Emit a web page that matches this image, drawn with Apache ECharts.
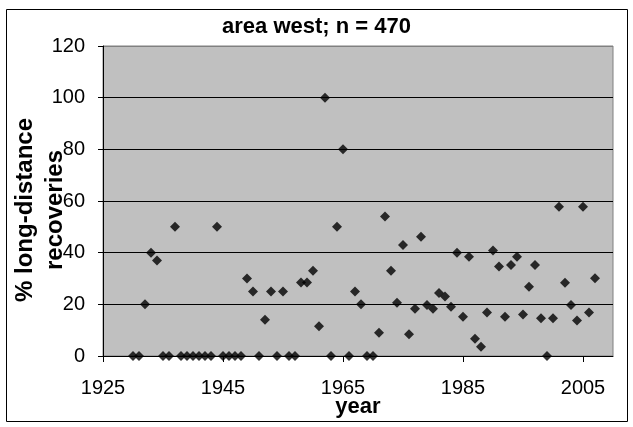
<!DOCTYPE html>
<html>
<head>
<meta charset="utf-8">
<script src="https://cdn.jsdelivr.net/npm/echarts@6/dist/echarts.min.js"></script>
<style>
html,body{margin:0;padding:0;background:#fff;}
#chart{width:633px;height:427px;}
</style>
</head>
<body>
<div id="chart"></div>
<script>
var titleText = 'area west; n = 470';
var xName = 'year';
var yName = '% long-distance\nrecoveries';

var years = [1930,1931,1932,1933,1934,1935,1936,1937,1938,1939,
             1940,1941,1942,1943,1944,1945,1946,1947,1948,1949,
             1950,1951,1952,1953,1954,1955,1956,1957,1958,1959,
             1960,1961,1962,1963,1964,1965,1966,1967,1968,1969,
             1970,1971,1972,1973,1974,1975,1976,1977,1978,1979,
             1980,1981,1982,1983,1984,1985,1986,1987,1988,1989,
             1990,1991,1992,1993,1994,1995,1996,1997,1998,1999,
             2000,2001,2002,2003,2004,2005,2006,2007];
var percents = [0,0,20,40,37,0,0,50,0,0,
                0,0,0,0,50,0,0,0,0,30,
                25,0,14,25,0,25,0,0,28.5,28.5,
                33,11.5,100,0,50,80,0,25,20,0,
                0,9,54,33,20.6,43,8.4,18.3,46.2,19.7,
                18.3,24.4,23,19.1,40,15.2,38.4,6.7,3.6,16.8,
                40.8,34.6,15.2,35.2,38.4,16.1,26.8,35.2,14.6,0,
                14.6,57.8,28.4,19.7,13.7,57.8,16.8,30.1];

var points = years.map(function (y, i) { return [y, percents[i]]; });

var chart = echarts.init(document.getElementById('chart'), null, {renderer: 'canvas'});
var font = 'Liberation Sans, Arial, sans-serif';
chart.setOption({
  animation: false,
  backgroundColor: '#ffffff',
  title: {
    text: titleText,
    left: 'center',
    top: 16,
    padding: 0,
    textStyle: {fontFamily: font, fontSize: 22, fontWeight: 'bold', color: '#000'}
  },
  graphic: [{
    type: 'rect',
    silent: true,
    shape: {x: 6.5, y: 9.5, width: 621, height: 412},
    style: {fill: 'none', stroke: '#000', lineWidth: 1}
  }],
  grid: {
    left: 103, right: 20, top: 46, bottom: 71,
    containLabel: false,
    outerBoundsMode: 'none',
    show: true,
    backgroundColor: '#c0c0c0',
    borderColor: '#808080',
    borderWidth: 1
  },
  xAxis: {
    type: 'value',
    min: 1925, max: 2010, interval: 20,
    name: xName,
    nameLocation: 'middle',
    nameGap: 40,
    nameMoveOverlap: false,
    nameTextStyle: {fontFamily: font, fontSize: 22, fontWeight: 'bold', color: '#000'},
    axisLine: {show: true, onZero: false, lineStyle: {color: '#000', width: 1}},
    axisTick: {show: true, inside: false, length: 6, lineStyle: {color: '#000'}},
    axisLabel: {fontFamily: font, fontSize: 20, color: '#000', margin: 22, showMaxLabel: false,
      formatter: function (v) { return String(v); }},
    splitLine: {show: false}
  },
  yAxis: {
    type: 'value',
    min: 0, max: 120, interval: 20,
    name: yName,
    nameLocation: 'middle',
    nameRotate: 90,
    nameGap: 33,
    nameMoveOverlap: false,
    nameTextStyle: {fontFamily: font, fontSize: 24, fontWeight: 'bold', color: '#000', lineHeight: 30, padding: [0, 18, 0, 0]},
    axisLine: {show: true, lineStyle: {color: '#000', width: 1}},
    axisTick: {show: true, inside: false, length: 5, lineStyle: {color: '#000'}},
    axisLabel: {fontFamily: font, fontSize: 20, color: '#000', margin: 18},
    splitLine: {show: true, lineStyle: {color: ['#000', '#000', '#000', '#000', '#000', '#000', '#808080'], width: 1}}
  },
  series: [{
    type: 'scatter',
    data: points,
    symbol: 'diamond',
    symbolSize: 10,
    clip: false,
    itemStyle: {color: '#000'},
    z: 5
  }]
});
</script>
</body>
</html>
